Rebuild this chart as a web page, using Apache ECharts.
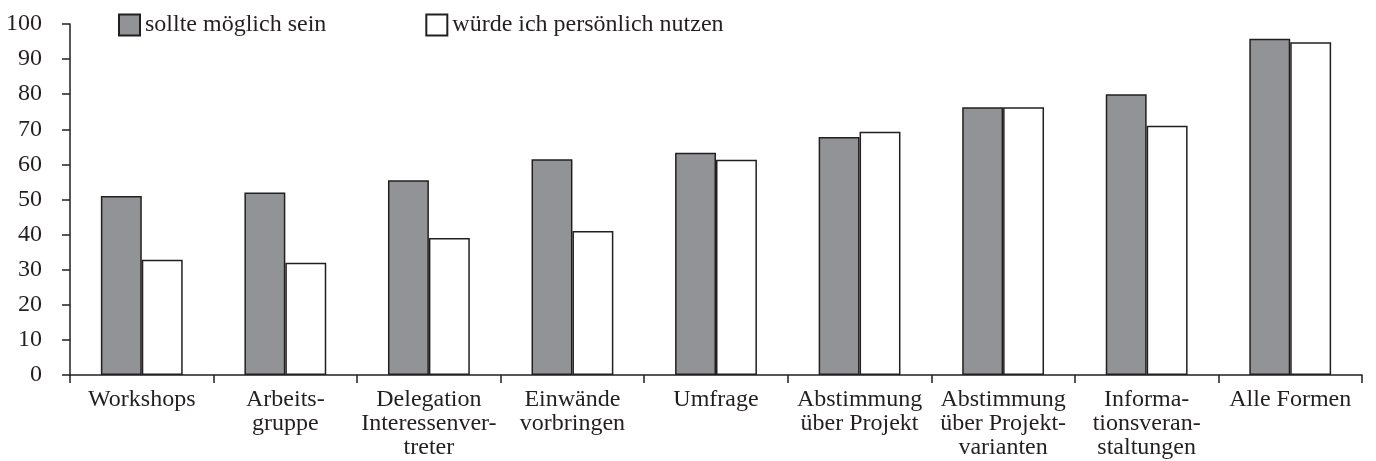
<!DOCTYPE html>
<html>
<head>
<meta charset="utf-8">
<script src="https://cdn.jsdelivr.net/npm/echarts@6/dist/echarts.min.js"></script>
<style>
  html, body { margin: 0; padding: 0; background: #fff; }
  #chart { width: 1376px; height: 461px; }
</style>
</head>
<body>
<div id="chart"></div>
<script>
const categories = [
  'Workshops',
  'Arbeits-\ngruppe',
  'Delegation\nInteressenver-\ntreter',
  'Einwände\nvorbringen',
  'Umfrage',
  'Abstimmung\nüber Projekt',
  'Abstimmung\nüber Projekt-\nvarianten',
  'Informa-\ntionsveran-\nstaltungen',
  'Alle Formen'
]
const sollteMoeglich = [51, 52, 55.5, 61.5, 63.3, 67.8, 76.3, 80, 95.8]
const persoenlichNutzen = [32.8, 32, 39, 41, 61.3, 69.3, 76.3, 71, 94.8]
const yTicks = [0, 10, 20, 30, 40, 50, 60, 70, 80, 90, 100]

const fontFamily = '"Liberation Serif", "DejaVu Serif", serif'
const ink = '#231f20'

const chart = echarts.init(document.getElementById('chart'))
chart.setOption({
  animation: false,
  textStyle: { fontFamily: fontFamily, color: ink },
  grid: { left: 70, right: 14, top: 24, bottom: 86, containLabel: false },
  legend: {
    left: 113,
    top: 8,
    itemWidth: 21,
    itemHeight: 21,
    itemGap: 99,
    icon: 'rect',
    textStyle: { fontFamily: fontFamily, fontSize: 24, color: ink },
    data: ['sollte möglich sein', 'würde ich persönlich nutzen']
  },
  xAxis: {
    type: 'category',
    data: categories,
    axisLine: { lineStyle: { color: ink, width: 1.5 } },
    axisTick: { show: true, length: 8, alignWithLabel: false, lineStyle: { color: ink, width: 1.5 } },
    axisLabel: {
      interval: 0,
      margin: 13,
      fontSize: 24,
      lineHeight: 24,
      color: ink,
      fontFamily: fontFamily,
      align: 'center'
    },
    splitLine: { show: false }
  },
  yAxis: {
    type: 'value',
    min: yTicks[0],
    max: yTicks[yTicks.length - 1],
    interval: 10,
    axisLine: { show: true, lineStyle: { color: ink, width: 1.5 } },
    axisTick: { show: true, length: 8, lineStyle: { color: ink, width: 1.5 } },
    axisLabel: { margin: 28, fontSize: 24, color: ink, fontFamily: fontFamily },
    splitLine: { show: false }
  },
  series: [
    {
      name: 'sollte möglich sein',
      type: 'bar',
      data: sollteMoeglich,
      barGap: '0%',
      barCategoryGap: '43%',
      itemStyle: { color: '#929397', borderColor: '#231f20', borderWidth: 1.5 }
    },
    {
      name: 'würde ich persönlich nutzen',
      type: 'bar',
      data: persoenlichNutzen,
      barGap: '0%',
      barCategoryGap: '43%',
      itemStyle: { color: '#ffffff', borderColor: '#231f20', borderWidth: 1.5 }
    }
  ]
})
</script>
</body>
</html>
